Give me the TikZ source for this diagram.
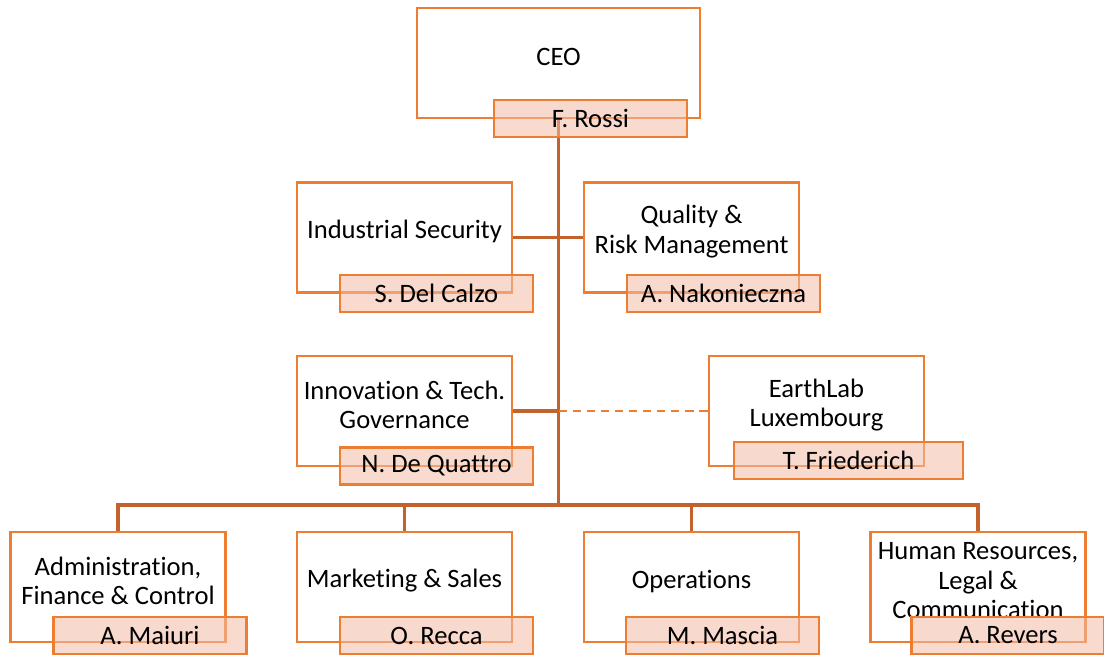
\documentclass[tikz,border=0pt]{standalone}
\usepackage{fontspec}
\setmainfont{Carlito}[Ligatures=NoCommon]
\definecolor{boxorange}{HTML}{ED7D31}
\definecolor{linkorange}{HTML}{C4622D}
\definecolor{namepeach}{HTML}{F3BBA7}
\tikzset{
  unit/.style={draw=boxorange, line width=1.9pt, fill=white, rectangle,
    minimum width=5.375cm, minimum height=2.75cm, inner sep=0pt},
  title/.style={align=center, inner sep=0pt, yshift=0.15cm,
    font=\fontsize{18.9}{21}\selectfont},
  person/.style={draw=boxorange, line width=1.9pt, fill=namepeach, fill opacity=0.55,
    text opacity=1, rectangle, minimum width=4.825cm, minimum height=0.925cm,
    inner sep=0pt, font=\fontsize{18.9}{21}\selectfont},
  link/.style={draw=linkorange, line width=2.2pt},
  dotted link/.style={draw=boxorange, line width=1.6pt, dash pattern=on 6pt off 4pt}
}
\begin{document}
\begin{tikzpicture}[x=0.025cm, y=-0.025cm]
      \useasboundingbox (0,0) rectangle (1104,655);
      \draw
        (558.5,63) node[unit, minimum width=7.075cm] (ceo){}
        (404.5,237.5) node[unit] (indsec){}
        (691.5,237.5) node[unit] (quality){}
        (404.5,411) node[unit] (innov){}
        (816.5,411) node[unit] (earthlab){}
        (118,587) node[unit] (admin){}
        (404.5,587) node[unit] (marketing){}
        (691.5,587) node[unit] (operations){}
        (978,587) node[unit] (hr){};
      \node[title] (ceo-t) at (ceo.center) {CEO};
      \node[title] (indsec-t) at (indsec.center) {Industrial Security};
      \node[title] (quality-t) at (quality.center) {Quality \&\\Risk Management};
      \node[title] (innov-t) at (innov.center) {Innovation \& Tech.\\Governance};
      \node[title] (earthlab-t) at (earthlab.center) {EarthLab\\Luxembourg};
      \node[title] (admin-t) at (admin.center) {Administration,\\Finance \& Control};
      \node[title] (marketing-t) at (marketing.center) {Marketing \& Sales};
      \node[title] (operations-t) at (operations.center) {Operations};
      \node[title] (hr-t) at (hr.center) {Human Resources,\\Legal \&\\Communication};
      \coordinate (bus) at (558.5,505);
      \begin{scope}[link]
        \draw (ceo.south) -- (bus);
        \draw (indsec.east) -- (quality.west);
        \draw (innov.east) -- (innov.east -| bus);
        \draw[dotted link] (innov.east -| bus) -- (earthlab.west);
        \draw (admin.north) |- (bus) -| (hr.north);
        \draw (marketing.north) -- (marketing.north |- bus);
        \draw (operations.north) -- (operations.north |- bus);
      \end{scope}
      \draw
        (590.5,118.5) node[person] (ceo-n){F. Rossi}
        (436.5,293.5) node[person] (indsec-n){S. Del Calzo}
        (723.5,293.5) node[person] (quality-n){A. Nakonieczna}
        (436.5,466) node[person] (innov-n){N. De Quattro}
        (848.5,460.5) node[person, minimum width=5.725cm] (earthlab-n){T. Friederich}
        (150,635.5) node[person] (admin-n){A. Maiuri}
        (436.5,635.5) node[person] (marketing-n){O. Recca}
        (722.5,635.5) node[person] (operations-n){M. Mascia}
        (1008,635.5) node[person] (hr-n){A. Revers};
\end{tikzpicture}
\end{document}
